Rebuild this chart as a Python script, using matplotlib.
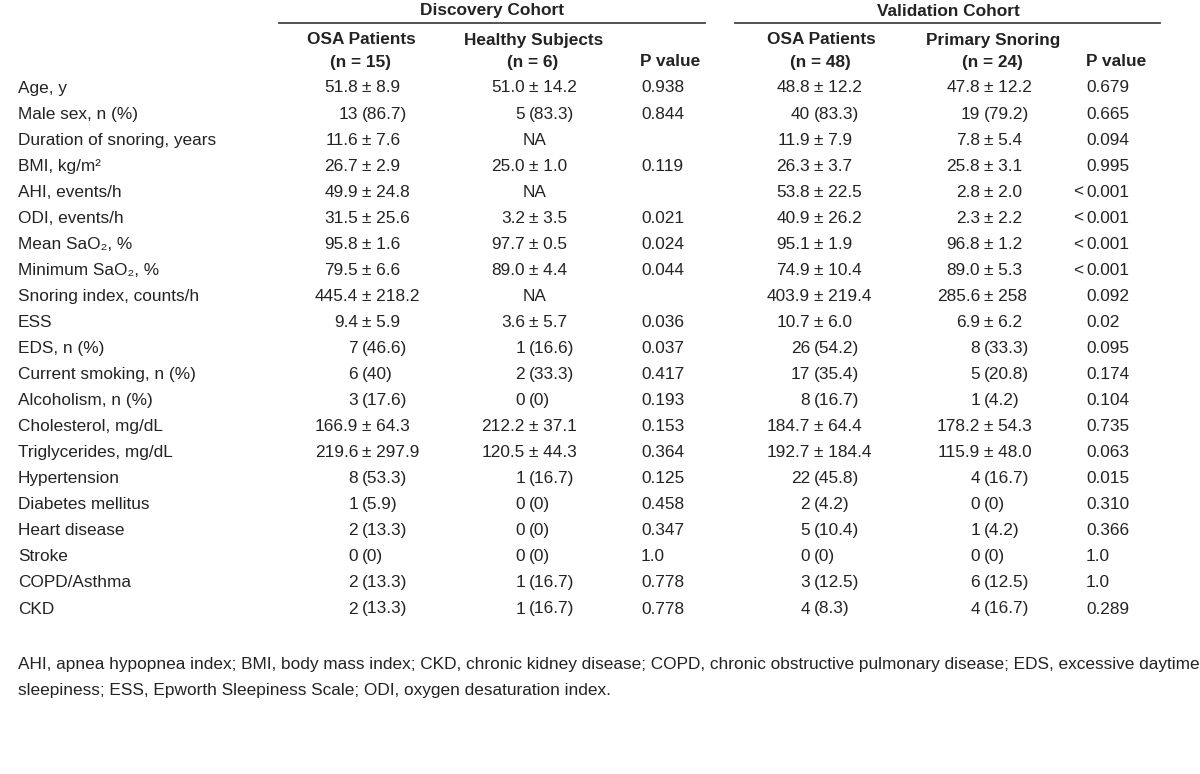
import matplotlib
matplotlib.use('Agg')
import matplotlib.pyplot as plt

FONT = ['Liberation Sans Narrow', 'Liberation Sans', 'DejaVu Sans']
plt.rcParams['font.family'] = FONT

# 表のデータ
row_labels = [
    'Age, y', 'Male sex, n (%)', 'Duration of snoring, years', 'BMI, kg/m²',
    'AHI, events/h', 'ODI, events/h', 'Mean SaO₂, %', 'Minimum SaO₂, %',
    'Snoring index, counts/h', 'ESS', 'EDS, n (%)', 'Current smoking, n (%)',
    'Alcoholism, n (%)', 'Cholesterol, mg/dL', 'Triglycerides, mg/dL',
    'Hypertension', 'Diabetes mellitus', 'Heart disease', 'Stroke',
    'COPD/Asthma', 'CKD',
]
disc_osa = [
    '51.8 ± 8.9', '13 (86.7)', '11.6 ± 7.6', '26.7 ± 2.9', '49.9 ± 24.8',
    '31.5 ± 25.6', '95.8 ± 1.6', '79.5 ± 6.6', '445.4 ± 218.2', '9.4 ± 5.9',
    '7 (46.6)', '6 (40)', '3 (17.6)', '166.9 ± 64.3', '219.6 ± 297.9',
    '8 (53.3)', '1 (5.9)', '2 (13.3)', '0 (0)', '2 (13.3)', '2 (13.3)',
]
disc_healthy = [
    '51.0 ± 14.2', '5 (83.3)', 'NA', '25.0 ± 1.0', 'NA', '3.2 ± 3.5',
    '97.7 ± 0.5', '89.0 ± 4.4', 'NA', '3.6 ± 5.7', '1 (16.6)', '2 (33.3)',
    '0 (0)', '212.2 ± 37.1', '120.5 ± 44.3', '1 (16.7)', '0 (0)', '0 (0)',
    '0 (0)', '1 (16.7)', '1 (16.7)',
]
disc_p = [
    '0.938', '0.844', '', '0.119', '', '0.021', '0.024', '0.044', '',
    '0.036', '0.037', '0.417', '0.193', '0.153', '0.364', '0.125', '0.458',
    '0.347', '1.0', '0.778', '0.778',
]
val_osa = [
    '48.8 ± 12.2', '40 (83.3)', '11.9 ± 7.9', '26.3 ± 3.7', '53.8 ± 22.5',
    '40.9 ± 26.2', '95.1 ± 1.9', '74.9 ± 10.4', '403.9 ± 219.4', '10.7 ± 6.0',
    '26 (54.2)', '17 (35.4)', '8 (16.7)', '184.7 ± 64.4', '192.7 ± 184.4',
    '22 (45.8)', '2 (4.2)', '5 (10.4)', '0 (0)', '3 (12.5)', '4 (8.3)',
]
val_snoring = [
    '47.8 ± 12.2', '19 (79.2)', '7.8 ± 5.4', '25.8 ± 3.1', '2.8 ± 2.0',
    '2.3 ± 2.2', '96.8 ± 1.2', '89.0 ± 5.3', '285.6 ± 258', '6.9 ± 6.2',
    '8 (33.3)', '5 (20.8)', '1 (4.2)', '178.2 ± 54.3', '115.9 ± 48.0',
    '4 (16.7)', '0 (0)', '1 (4.2)', '0 (0)', '6 (12.5)', '4 (16.7)',
]
val_p = [
    '0.679', '0.665', '0.094', '0.995', '< 0.001', '< 0.001', '< 0.001',
    '< 0.001', '0.092', '0.02', '0.095', '0.174', '0.104', '0.735', '0.063',
    '0.015', '0.310', '0.366', '1.0', '1.0', '0.289',
]
footnote = [
    'AHI, apnea hypopnea index; BMI, body mass index; CKD, chronic kidney disease; '
    'COPD, chronic obstructive pulmonary disease; EDS, excessive daytime',
    'sleepiness; ESS, Epworth Sleepiness Scale; ODI, oxygen desaturation index.',
]

TXT = '#232323'
FS = 12.4


def put_value(ax, x_anchor, y, s):
    """'±' や '(' の位置で揃えて値を書く。"""
    if s == 'NA':
        ax.text(x_anchor + 6, y, s, ha='center', va='center', fontsize=FS, color=TXT)
        return
    for sep in (' ± ', ' ('):
        if sep in s:
            head, tail = s.split(sep, 1)
            ax.text(x_anchor - 4, y, head, ha='right', va='center', fontsize=FS, color=TXT)
            ax.text(x_anchor, y, sep.strip() + (' ' if sep == ' ± ' else '') + tail,
                    ha='left', va='center', fontsize=FS, color=TXT)
            return
    ax.text(x_anchor, y, s, ha='center', va='center', fontsize=FS, color=TXT)


def put_p(ax, x_left, y, s):
    if s.startswith('< '):
        ax.text(x_left - 3, y, '<', ha='right', va='center', fontsize=FS, color=TXT)
        s = s[2:]
    ax.text(x_left, y, s, ha='left', va='center', fontsize=FS, color=TXT)


def main():
    fig = plt.figure(figsize=(12, 7.74), dpi=100)
    ax = fig.add_axes([0, 0, 1, 1])
    ax.set_xlim(0, 1200)
    ax.set_ylim(774, 0)
    ax.axis('off')

    # 見出し
    bold = dict(fontsize=FS, color=TXT, fontweight='bold', va='center')
    ax.text(492, 11, 'Discovery Cohort', ha='center', **bold)
    ax.text(948, 11, 'Validation Cohort', ha='center', **bold)
    ax.plot([279, 705], [22.5, 22.5], color='#444444', lw=1.3)
    ax.plot([735, 1160], [22.5, 22.5], color='#444444', lw=1.3)

    ax.text(361, 40, 'OSA Patients', ha='center', **bold)
    ax.text(361, 62, '(n = 15)', ha='center', **bold)
    ax.text(534, 40, 'Healthy Subjects', ha='center', **bold)
    ax.text(533, 62, '(n = 6)', ha='center', **bold)
    ax.text(640, 62, 'P value', ha='left', **bold)
    ax.text(821, 40, 'OSA Patients', ha='center', **bold)
    ax.text(820, 62, '(n = 48)', ha='center', **bold)
    ax.text(993, 40, 'Primary Snoring', ha='center', **bold)
    ax.text(992, 62, '(n = 24)', ha='center', **bold)
    ax.text(1086, 62, 'P value', ha='left', **bold)

    # 本体
    y0, dy = 88, 26.05
    for i, label in enumerate(row_labels):
        y = y0 + i * dy
        ax.text(18, y, label, ha='left', va='center', fontsize=FS, color=TXT)
        put_value(ax, 362, y, disc_osa[i])
        put_value(ax, 529, y, disc_healthy[i])
        put_p(ax, 641, y, disc_p[i])
        put_value(ax, 814, y, val_osa[i])
        put_value(ax, 984, y, val_snoring[i])
        put_p(ax, 1086, y, val_p[i])

    # 脚注
    for j, line in enumerate(footnote):
        ax.text(18, 665 + j * 25, line, ha='left', va='center', fontsize=FS, color=TXT)

    fig.savefig('out.png', dpi=100, facecolor='white')


if __name__ == '__main__':
    main()
